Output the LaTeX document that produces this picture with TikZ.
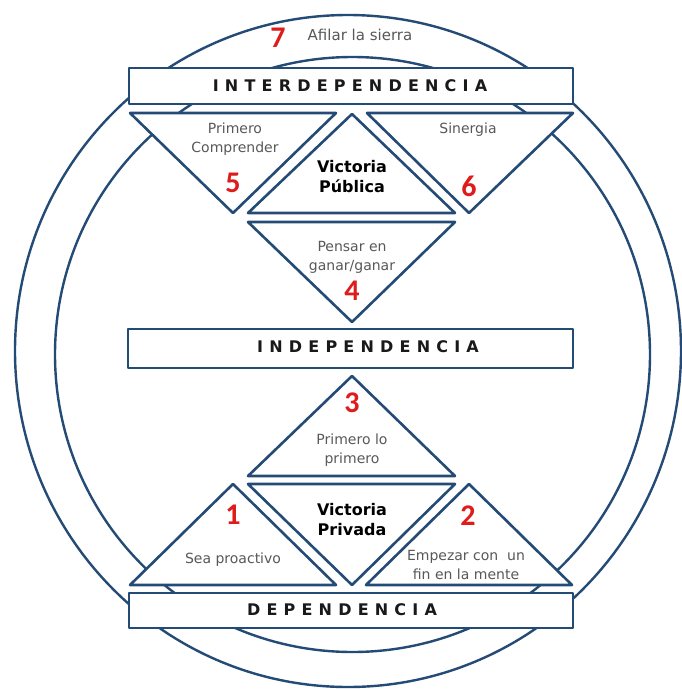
\documentclass[tikz,border=0pt]{standalone}
\usepackage{fontspec}
\setmainfont{DejaVu Sans}
\newfontfamily\numfont{Carlito}
\definecolor{lineblue}{RGB}{36,74,118}
\definecolor{numred}{RGB}{222,28,28}
\definecolor{txtgray}{RGB}{88,88,88}
\definecolor{headblack}{RGB}{25,25,25}
\def\spc#1{\ifx#1\relax\unskip\else#1\hskip 6.2pt\expandafter\spc\fi}
\begin{document}
\begin{tikzpicture}[x=1pt,y=-1pt,line join=round,
  ring/.style={draw=lineblue,line width=2.4pt},
  tri/.style={draw=lineblue,line width=2.6pt,fill=white},
  band/.style={draw=lineblue,line width=2.6pt,fill=white},
  head/.style={text=headblack,font=\fontsize{16}{18}\selectfont\bfseries,inner sep=0pt},
  lbl/.style={text=txtgray,align=center,font=\fontsize{14}{19}\selectfont,inner sep=0pt},
  win/.style={text=black,align=center,font=\fontsize{16}{20}\selectfont\bfseries,inner sep=0pt},
  num/.style={text=numred,font=\numfont\fontsize{30}{30}\selectfont\bfseries,inner sep=0pt}]
\useasboundingbox (0,0) rectangle (681,691);
\fill[white] (0,0) rectangle (681,691);
% circles
\draw[ring] (348,351) ellipse [x radius=333pt, y radius=336pt];
\draw[ring] (352.5,354.5) circle [radius=297.5pt];
% bands
\draw[band] (129,68) rectangle (573,104);
\draw[band] (128,329) rectangle (573,368);
\draw[band] (129,593) rectangle (573,628);
% upper triangles
\draw[tri] (130,113) -- (336,113) -- (233,213) -- cycle;
\draw[tri] (352,114) -- (455,213) -- (248,213) -- cycle;
\draw[tri] (367,113) -- (573,113) -- (469,213) -- cycle;
\draw[tri] (248,222) -- (455,222) -- (352,322) -- cycle;
% lower triangles
\draw[tri] (352,376) -- (455,476) -- (248,476) -- cycle;
\draw[tri] (233,484) -- (336,585) -- (130,585) -- cycle;
\draw[tri] (248,484) -- (455,484) -- (352,585) -- cycle;
\draw[tri] (469,484) -- (572,585) -- (366,585) -- cycle;
% headings
\node[head] (inter) at (350,86) {\spc INTERDEPENDENCIA\relax};
\node[head] (indep) at (368,347) {\spc INDEPENDENCIA\relax};
\node[head] (dep) at (342,610) {\spc DEPENDENCIA\relax};
% labels
\node[num] (n7) at (278,38) {7};
\node[lbl,font=\fontsize{15}{19}\selectfont] (afilar) at (360,35) {Afilar la sierra};
\node[lbl] (l5) at (235,139) {Primero\\Comprender};
\node[num] (n5) at (233,183) {5};
\node[win] (vpub) at (352,177) {Victoria\\Pública};
\node[lbl] (l6) at (468,130) {Sinergia};
\node[num] (n6) at (469,186) {6};
\node[lbl] (l4) at (352,257) {Pensar en\\ganar/ganar};
\node[num] (n4) at (352,291) {4};
\node[num] (n3) at (352,403) {3};
\node[lbl] (l3) at (352,450) {Primero lo\\primero};
\node[num] (n1) at (233,515) {1};
\node[win] (vpri) at (352,520) {Victoria\\Privada};
\node[num] (n2) at (468,516) {2};
\node[lbl] (l1) at (233,560) {Sea proactivo};
\node[lbl] (l2) at (466,565) {Empezar con\ \ un\\fin en la mente};
\end{tikzpicture}
\end{document}
